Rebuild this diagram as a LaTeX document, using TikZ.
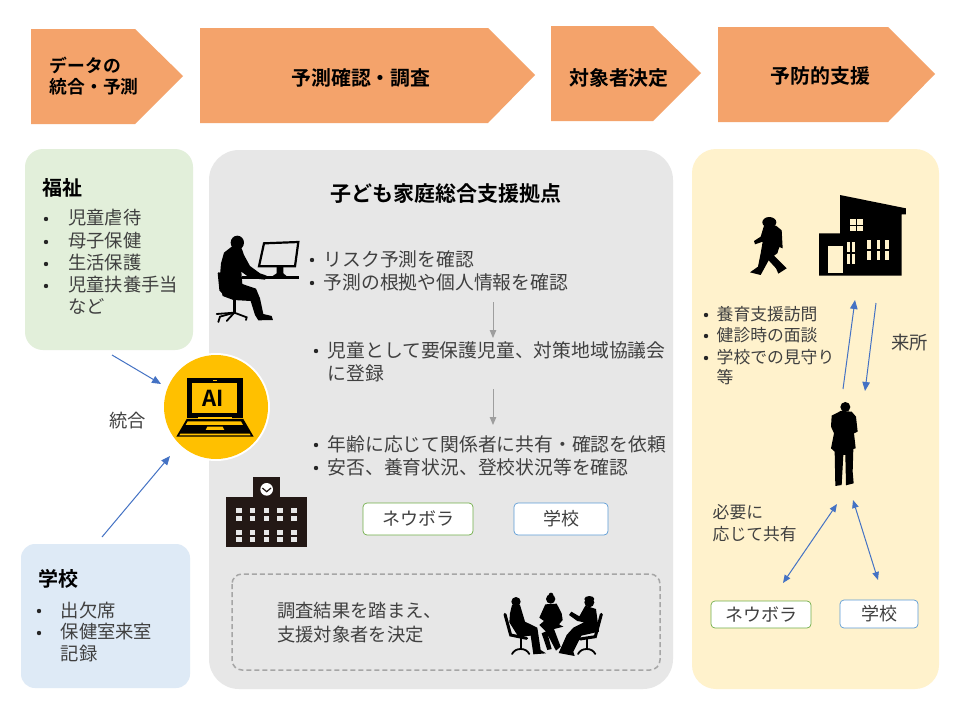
\documentclass[tikz,border=0pt]{standalone}
\usepackage{fontspec}
\setmainfont{Noto Sans CJK JP}
\newfontfamily\jpb{Noto Sans CJK JP Bold}
\usetikzlibrary{arrows.meta}
\definecolor{chev}{HTML}{F4A36B}
\definecolor{grn}{HTML}{E2EFDA}
\definecolor{blu}{HTML}{DEEAF6}
\definecolor{gry}{HTML}{E7E7E7}
\definecolor{yel}{HTML}{FFF2CC}
\definecolor{arw}{HTML}{4472C4}
\definecolor{txt}{HTML}{404040}
\definecolor{ink}{HTML}{231815}
\definecolor{aiy}{HTML}{FFC000}
\definecolor{bgreen}{HTML}{70AD47}
\definecolor{bblue}{HTML}{5B9BD5}
\newcommand{\fs}[1]{\fontsize{#1}{#1}\selectfont}
\newcommand{\bitem}[3]{\node[bulletdot] (#1b) at (#2,#3) {};}
\tikzset{
  bulletdot/.style={circle,fill=black!85,minimum size=4.4pt,inner sep=0},
  tx/.style={anchor=west,inner sep=0,text=txt,font=\fs{#1}},
  lb/.style={draw,rounded corners=4pt,fill=white,minimum height=#1,inner sep=0,line width=.7pt,text=txt,font=\fs{18}},
  link/.style={draw=arw,line width=1pt,-{Triangle[length=9pt,width=7.5pt]}},
  link2/.style={draw=arw,line width=1pt,{Triangle[length=8pt,width=6.5pt]}-{Triangle[length=8pt,width=6.5pt]}},
  stepline/.style={draw=black!38,line width=1pt,-{Triangle[length=8pt,width=6.5pt]}},
  zm/.style 2 args={shift={(#1pt,-#2pt)},x=.3333pt,y=-.3333pt},
}
\begin{document}
\begin{tikzpicture}[x=1pt,y=-1pt]
\useasboundingbox (0,0) rectangle (960,720);
\fill[white] (0,0) rectangle (960,720);
% chevrons
\fill[chev] (31,29)--(135,29)--(183,76)--(135,124)--(31,124)--cycle;
\fill[chev] (200,28)--(488,28)--(535,75)--(488,123)--(200,123)--cycle;
\fill[chev] (551,26)--(653,26)--(701,73)--(653,121)--(551,121)--cycle;
\fill[chev] (718,27)--(888,27)--(935,74)--(888,122)--(718,122)--cycle;
\node[anchor=west,inner sep=0,font=\fs{17.8}\jpb] (h1a) at (49.5,65) {データの};
\node[anchor=west,inner sep=0,font=\fs{17.8}\jpb] (h1b) at (49.5,87) {統合・予測};
\node[inner sep=0,font=\fs{19.9}\jpb] (h2) at (361,78) {予測確認・調査};
\node[inner sep=0,font=\fs{19.9}\jpb] (h3) at (619,78) {対象者決定};
\node[inner sep=0,font=\fs{19.9}\jpb] (h4) at (820.5,76) {予防的支援};
% panels
\fill[grn,rounded corners=18pt] (25,149) rectangle (193,350);
\fill[blu,rounded corners=14pt] (21,544) rectangle (190,688);
\fill[gry,rounded corners=30pt] (209,150) rectangle (673,689);
\fill[yel,rounded corners=24pt] (692,149) rectangle (939,689);
% welfare
\node[anchor=west,inner sep=0,font=\fs{20}\jpb] (t1) at (42.5,188) {福祉};
\bitem{w1}{46}{219}\node[tx=18.3] (w1) at (68,218) {児童虐待};
\bitem{w2}{46}{242}\node[tx=18.3] (w2) at (68,241) {母子保健};
\bitem{w3}{46}{264}\node[tx=18.3] (w3) at (68,263) {生活保護};
\bitem{w4}{46}{286}\node[tx=18.3] (w4) at (68,285) {児童扶養手当};
\node[tx=18.3] (w5) at (68,307) {など};
% school
\node[anchor=west,inner sep=0,font=\fs{20}\jpb] (t2) at (38,579) {学校};
\bitem{s1}{39}{611}\node[tx=18.3] (s1) at (60.5,610) {出欠席};
\bitem{s2}{39}{633}\node[tx=18.3] (s2) at (60.5,632) {保健室来室};
\node[tx=18.3] (s3) at (60.5,654) {記録};
\node[tx=18.3] (togo) at (109,421) {統合};
% AI
\node[circle,fill=white,minimum size=108pt,inner sep=0] (ai) at (216,407) {};
\fill[aiy] (ai.center) circle (52pt);
\begin{scope}[zm={150}{345}]
 \fill[black] (110,100) rectangle (280,218);
 \fill[aiy] (127,113) rectangle (262,205);
 \fill[aiy] (189,104) rectangle (201,109);
 \fill[black] (110,222)--(280,222)--(311,275)--(79,275)--cycle;
 \fill[aiy] (145,217) rectangle (245,222);
 \fill[aiy] (113,229)--(273,229)--(279,240)--(107,240)--cycle;
 \fill[aiy] (172,245)--(218,245)--(223,255)--(167,255)--cycle;
 \fill[aiy] (91,266)--(299,266)--(302,271)--(88,271)--cycle;
\end{scope}
\node[inner sep=0,font=\fs{22}\jpb] (ailbl) at (213.5,398) {AI};
\coordinate (a1s) at (112,355); \coordinate (a1e) at (161,384);
\coordinate (a2s) at (102,537); \coordinate (a2e) at (170,456);
\draw[link] (a1s)--(a1e);
\draw[link] (a2s)--(a2e);
% centre
\node[inner sep=0,font=\fs{21}\jpb] (ct) at (445.5,194) {子ども家庭総合支援拠点};
\bitem{c1}{312}{260}\node[tx=18.8] (c1) at (323.5,259) {リスク予測を確認};
\bitem{c2}{312}{283}\node[tx=18.8] (c2) at (323.5,282) {予測の根拠や個人情報を確認};
\bitem{c3}{316}{351}\node[tx=18.8] (c3) at (327.5,350) {児童として要保護児童、対策地域協議会};
\node[tx=18.8] (c3b) at (327.5,373) {に登録};
\bitem{c4}{316}{445}\node[tx=18.8] (c4) at (327.5,444) {年齢に応じて関係者に共有・確認を依頼};
\bitem{c5}{316}{468}\node[tx=18.8] (c5) at (327.5,467) {安否、養育状況、登校状況等を確認};
\coordinate (g1s) at (493,302); \coordinate (g1e) at (493,338);
\coordinate (g2s) at (493,389); \coordinate (g2e) at (493,425);
\draw[stepline] (g1s)--(g1e);
\draw[stepline] (g2s)--(g2e);
\node[lb=32pt,draw=bgreen,minimum width=110pt] (n1) at (418,519) {ネウボラ};
\node[lb=32pt,draw=bblue,minimum width=94pt] (n2) at (561,519) {学校};
\draw[draw=black!35,line width=1.5pt,rounded corners=10pt,dash pattern=on 5pt off 3pt] (232,574) rectangle (660,670);
\node[tx=18.3] (r1) at (277,611) {調査結果を踏まえ、};
\node[tx=18.3] (r2) at (277,635) {支援対象者を決定};
% desk man
\begin{scope}[zm={200}{220}]
 \fill[black] (112,68) ellipse (20 and 21);
 \fill[black] (95,80)--(125,85)--(132,105)--(150,138)--(180,160)--(200,167)--(195,179)--(150,174)--(124,155)--(127,192)--(168,206)--(180,235)--(190,282)--(215,288)--(219,300)--(175,301)--(165,285)--(152,243)--(100,240)--(68,228)--(58,190)--(63,130)--(72,98)--cycle;
 \draw[black,line width=2.6pt,line cap=round] (57,160)--(62,210)--(80,228);
 \draw[black,line width=2.4pt] (103,235)--(103,275);
 \draw[black,line width=1.8pt,line cap=round] (55,306)--(60,290)--(103,278)--(140,292)--(138,300);
 \draw[black,line width=1.8pt,line cap=round] (103,278)--(80,303);
 \draw[black,line width=1.8pt,line cap=round] (103,278)--(50,282);
 \fill[black] (125,169) rectangle (297,178);
 \draw[black,line width=2.2pt] (192,70)--(295,66)--(285,139)--(177,139)--cycle;
 \fill[black] (230,139)--(250,139)--(250,160)--(262,170)--(215,170)--(230,160)--cycle;
\end{scope}
% school building
\begin{scope}[zm={215}{470}]
 \fill[ink] (113,20) rectangle (195,85);
 \fill[ink] (32,82) rectangle (277,232);
 \fill[white] (155,58) circle (19);
 \draw[ink,line width=1.2pt] (142,54)--(155,65)--(168,54);
 \foreach \cx in {72,113,155,196,237}
  \foreach \cy in {120,145,187,208}
   \fill[gry] (\cx-8.5,\cy-7.5) rectangle (\cx+8.5,\cy+7.5);
\end{scope}
% meeting
\begin{scope}[zm={490}{585}]
 \fill[black] (78,50) circle (14);
 \fill[black] (66,60)--(90,60)--(105,110)--(142,128)--(152,195)--(168,205)--(130,208)--(122,152)--(85,155)--(58,112)--(60,85)--cycle;
 \draw[black,line width=3pt,line cap=round] (45,88)--(62,150)--(110,160);
 \draw[black,line width=2pt] (92,155)--(92,193);
 \draw[black,line width=1.8pt,line cap=round] (66,207) to[bend left=30] (92,192) to[bend left=30] (118,207);
 \fill[black] (182,42) circle (14);
 \fill[black] (183,30) circle (7);
 \fill[black] (166,58)--(200,56)--(215,85)--(218,105)--(207,118)--(220,125)--(192,132)--(212,185)--(198,197)--(168,140)--(148,120)--(162,108)--(148,98)--cycle;
 \fill[black] (192,128)--(155,145)--(172,195)--(185,192)--(175,155)--cycle;
 \fill[black] (298,52) circle (15);
 \fill[black] (298,42) ellipse (15 and 9);
 \fill[black] (286,62)--(318,72)--(327,140)--(274,152)--(250,200)--(254,213)--(206,204)--(230,150)--(250,128)--(282,112)--(262,108)--(237,90)--(244,80)--(268,94)--cycle;
 \draw[black,line width=3pt,line cap=round] (334,88)--(316,155)--(270,162);
 \draw[black,line width=2pt] (290,160)--(290,193);
 \draw[black,line width=1.8pt,line cap=round] (264,207) to[bend left=30] (290,192) to[bend left=30] (316,207);
\end{scope}
% right panel: child and house
\begin{scope}[zm={740}{185}]
 \fill[black] (88,112) ellipse (21 and 16);
 \fill[black] (72,122)--(108,122)--(125,136)--(128,190)--(118,186)--(112,205)--(102,212)--(140,250)--(115,266)--(108,250)--(86,226)--(62,270)--(30,262)--(54,245)--(62,205)--(68,170)--(45,178)--(42,168)--(62,155)--cycle;
 \fill[black] (300,30)--(498,70)--(498,88)--(485,88)--(485,272)--(237,272)--(237,145)--(300,145)--cycle;
 \fill[yel] (263,183) rectangle (309,264);
 \fill[yel] (331,102) rectangle (370,138);
 \draw[black,line width=.8pt] (350.5,102)--(350.5,138) (331,120)--(370,120);
 \foreach \wx in {320,336}{
  \fill[yel] (\wx,172) rectangle (\wx+10,202);
  \fill[yel] (\wx,207) rectangle (\wx+10,237);}
 \foreach \wx in {382,410,435}{
  \fill[yel] (\wx,165) rectangle (\wx+11,192);
  \fill[yel] (\wx,197) rectangle (\wx+11,225);}
\end{scope}
\begin{scope}[zm={810}{295}]
 \fill[black] (106,336) circle (15);
 \fill[black] (92,348)--(125,350)--(138,365)--(143,410)--(132,415)--(137,460)--(130,462)--(128,530)--(131,565)--(108,571)--(106,480)--(100,480)--(95,570)--(76,573)--(74,470)--(63,460)--(72,415)--(63,395)--(65,362)--cycle;
\end{scope}
\bitem{y1}{706}{315}\node[tx=16.8] (y1) at (716.5,314) {養育支援訪問};
\bitem{y2}{706}{336}\node[tx=16.8] (y2) at (716.5,335) {健診時の面談};
\bitem{y3}{706}{358}\node[tx=16.8] (y3) at (716.5,357) {学校での見守り};
\node[tx=16.8] (y4) at (716.5,377) {等};
\node[tx=18.3] (raisho) at (891,343) {来所};
\node[tx=16.8] (n3) at (712.5,512) {必要に};
\node[tx=16.8] (n4) at (712.5,534) {応じて共有};
\node[lb=27pt,draw=bgreen,minimum width=100pt] (n5) at (761,614.5) {ネウボラ};
\node[lb=28pt,draw=bblue,minimum width=78pt] (n6) at (879,614) {学校};
\coordinate (r1s) at (843,389); \coordinate (r1e) at (855,300);
\coordinate (r2s) at (876,303); \coordinate (r2e) at (865,391);
\coordinate (r3s) at (783,583); \coordinate (r3e) at (837,504);
\coordinate (r4s) at (878,580); \coordinate (r4e) at (853,500);
\draw[link] (r1s)--(r1e);
\draw[link] (r2s)--(r2e);
\draw[link2] (r3s)--(r3e);
\draw[link2] (r4s)--(r4e);
\end{tikzpicture}
\end{document}
